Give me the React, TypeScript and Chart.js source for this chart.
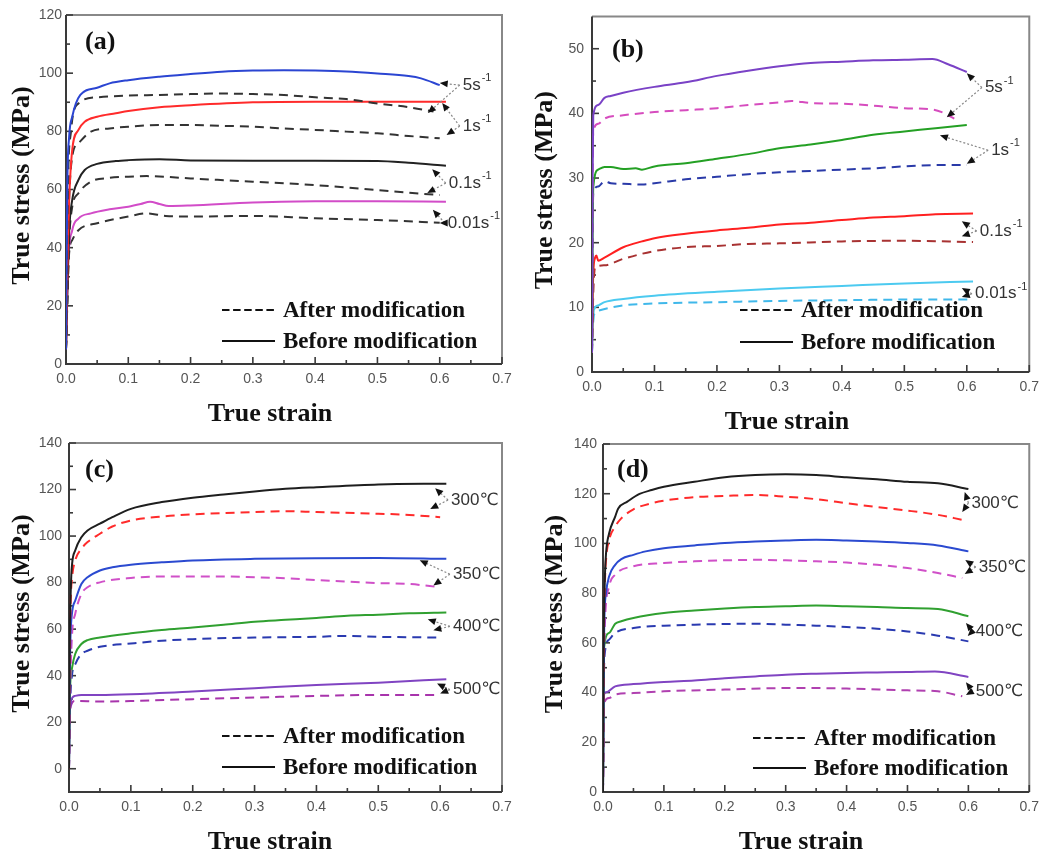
import React, { useEffect, useRef } from "react";
import { Chart, registerables } from "chart.js";
Chart.register(...registerables);

type P = [number, number];

// ---------- shared tick values ----------
const STRAIN_TICKS = [0, 0.1, 0.2, 0.3, 0.4, 0.5, 0.6, 0.7];
const A_STRESS_TICKS = [0, 20, 40, 60, 80, 100, 120];
const B_STRESS_TICKS = [0, 10, 20, 30, 40, 50];
const CD_STRESS_TICKS = [0, 20, 40, 60, 80, 100, 120, 140];

// ---------- panel (a) ----------
const A_5_BEFORE: P[] = [[0,5],[0.002,60],[0.005,78],[0.01,85],[0.023,92.5],[0.05,95],[0.07,96.5],[0.1,97.6],[0.15,98.8],[0.2,99.7],[0.25,100.5],[0.3,100.9],[0.35,101],[0.4,100.9],[0.45,100.6],[0.5,99.9],[0.55,99],[0.57,98.2],[0.6,95.9]];
const A_5_AFTER: P[] = [[0,5],[0.003,60],[0.008,80],[0.02,89.6],[0.05,91.7],[0.1,92.3],[0.15,92.5],[0.2,92.8],[0.25,93],[0.3,92.8],[0.35,92.5],[0.4,91.7],[0.45,91.1],[0.5,89.6],[0.55,88.3],[0.59,86.8]];
const A_1_BEFORE: P[] = [[0,5],[0.003,40],[0.005,56],[0.01,73.6],[0.02,80.5],[0.03,83.3],[0.05,85],[0.08,86.2],[0.1,87],[0.15,88.3],[0.2,89],[0.3,90],[0.4,90.2],[0.5,90.2],[0.61,90.2]];
const A_1_AFTER: P[] = [[0,5],[0.004,50],[0.01,71.3],[0.02,75.9],[0.04,79.9],[0.07,81],[0.1,81.6],[0.15,82.2],[0.2,82.2],[0.25,81.9],[0.3,81.6],[0.35,81],[0.4,80.5],[0.45,79.9],[0.5,79.3],[0.55,78.4],[0.6,77.6]];
const A_01_BEFORE: P[] = [[0,5],[0.005,45],[0.01,56.4],[0.02,63.3],[0.03,66.7],[0.05,68.8],[0.08,69.8],[0.1,70.1],[0.15,70.4],[0.2,70],[0.3,69.9],[0.4,69.9],[0.5,69.8],[0.55,69.2],[0.61,68.2]];
const A_01_AFTER: P[] = [[0,5],[0.005,42],[0.01,54],[0.02,58.7],[0.04,62.7],[0.07,64],[0.1,64.4],[0.13,64.6],[0.2,63.8],[0.3,62.7],[0.4,61.5],[0.5,59.8],[0.55,58.9],[0.6,58.1]];
const A_001_BEFORE: P[] = [[0,5],[0.003,33],[0.01,46],[0.02,50],[0.04,51.8],[0.07,53.2],[0.1,54.1],[0.12,55],[0.135,55.8],[0.15,55],[0.165,54.3],[0.2,54.5],[0.3,55.5],[0.4,56],[0.5,56],[0.61,55.8]];
const A_001_AFTER: P[] = [[0,5],[0.005,38],[0.01,42.6],[0.02,46],[0.05,48.4],[0.1,50.7],[0.13,51.8],[0.16,50.9],[0.2,50.7],[0.3,50.9],[0.4,50.1],[0.5,49.5],[0.6,48.6]];

// ---------- panel (b) ----------
const B_5_BEFORE: P[] = [[0,3],[0.001,30],[0.002,39.7],[0.01,41.3],[0.02,42.4],[0.03,42.7],[0.05,43.2],[0.1,44.1],[0.15,44.8],[0.2,45.8],[0.25,46.6],[0.3,47.3],[0.35,47.8],[0.4,48],[0.45,48.2],[0.5,48.3],[0.545,48.4],[0.57,47.6],[0.6,46.4]];
const B_5_AFTER: P[] = [[0,3],[0.001,30],[0.002,37.2],[0.01,38.4],[0.02,39.2],[0.05,39.7],[0.1,40.2],[0.15,40.5],[0.2,40.8],[0.25,41.3],[0.3,41.7],[0.32,41.9],[0.35,41.6],[0.4,41.5],[0.45,41.2],[0.5,40.8],[0.545,40.6],[0.56,40.2],[0.58,39.2]];
const B_1_BEFORE: P[] = [[0,3],[0.001,20],[0.002,28.5],[0.01,31.3],[0.02,31.7],[0.03,31.7],[0.05,31.4],[0.07,31.5],[0.08,31.3],[0.1,31.8],[0.15,32.3],[0.2,33],[0.25,33.7],[0.3,34.6],[0.35,35.2],[0.4,35.9],[0.45,36.7],[0.5,37.2],[0.55,37.7],[0.6,38.2]];
const B_1_AFTER: P[] = [[0,3],[0.001,20],[0.002,27.7],[0.01,28.7],[0.02,29.5],[0.03,29.2],[0.05,29.1],[0.08,29],[0.1,29.2],[0.15,29.8],[0.2,30.2],[0.25,30.6],[0.3,30.9],[0.35,31.1],[0.4,31.3],[0.45,31.5],[0.5,31.8],[0.55,32],[0.6,32]];
const B_01_BEFORE: P[] = [[0,3],[0.001,10],[0.002,15.2],[0.005,17.7],[0.007,18],[0.01,17.2],[0.02,17.7],[0.05,19.3],[0.08,20.2],[0.1,20.7],[0.15,21.4],[0.2,21.9],[0.25,22.3],[0.3,22.8],[0.35,23.1],[0.4,23.5],[0.45,23.9],[0.5,24.1],[0.55,24.4],[0.61,24.5]];
const B_01_AFTER: P[] = [[0,3],[0.002,12],[0.005,16.2],[0.02,16.5],[0.05,17.5],[0.1,18.7],[0.15,19.3],[0.2,19.5],[0.25,19.8],[0.3,19.9],[0.4,20.2],[0.5,20.3],[0.61,20.1]];
const B_001_BEFORE: P[] = [[0,3],[0.001,6],[0.003,9.6],[0.01,10.3],[0.02,10.8],[0.05,11.3],[0.1,11.8],[0.2,12.4],[0.3,12.9],[0.4,13.3],[0.5,13.7],[0.61,14]];
const B_001_AFTER: P[] = [[0,3],[0.001,6],[0.003,8.8],[0.01,9.5],[0.05,10.3],[0.1,10.6],[0.2,10.8],[0.3,11],[0.4,11.1],[0.5,11.2],[0.61,11.2]];

// ---------- panel (c) ----------
const C_300_BEFORE: P[] = [[0,0],[0.001,49],[0.003,78],[0.005,88],[0.01,93.8],[0.02,99.5],[0.03,102.4],[0.05,105.3],[0.07,108.1],[0.1,111.7],[0.15,114.6],[0.2,116.5],[0.25,117.9],[0.3,119.2],[0.35,120.3],[0.4,121],[0.5,122.2],[0.61,122.5]];
const C_300_AFTER: P[] = [[0,0],[0.001,45],[0.003,73.7],[0.005,82.3],[0.01,89.5],[0.02,94.5],[0.03,97.4],[0.05,101],[0.07,104.1],[0.1,106.7],[0.15,108.4],[0.2,109.3],[0.3,110.3],[0.35,110.7],[0.4,110.3],[0.5,109.6],[0.55,109.1],[0.6,108.1]];
const C_350_BEFORE: P[] = [[0,0],[0.001,35],[0.003,60.7],[0.01,72.2],[0.02,79.4],[0.03,82.3],[0.05,85.2],[0.07,86.6],[0.1,87.7],[0.15,88.7],[0.2,89.5],[0.3,90.2],[0.4,90.5],[0.5,90.6],[0.61,90.2]];
const C_350_AFTER: P[] = [[0,0],[0.002,35],[0.005,57.9],[0.01,66.5],[0.02,75.1],[0.03,78],[0.05,80.1],[0.1,82],[0.15,82.6],[0.2,82.6],[0.25,82.6],[0.3,82.3],[0.35,81.9],[0.4,81.1],[0.5,79.8],[0.55,79.4],[0.6,78]];
const C_400_BEFORE: P[] = [[0,0],[0.001,25],[0.002,36.3],[0.005,43.5],[0.01,49.3],[0.02,53.6],[0.03,55.3],[0.05,56.4],[0.1,58.2],[0.15,59.6],[0.2,60.7],[0.25,61.9],[0.3,63.2],[0.35,64],[0.4,64.8],[0.45,65.8],[0.5,66.2],[0.55,66.8],[0.61,67.2]];
const C_400_AFTER: P[] = [[0,0],[0.002,28],[0.005,40.6],[0.01,44.9],[0.02,49.3],[0.03,50.7],[0.05,52.4],[0.1,53.8],[0.15,55],[0.2,55.7],[0.3,56.4],[0.4,56.7],[0.45,57.1],[0.5,56.7],[0.6,56.4]];
const C_500_BEFORE: P[] = [[0,0],[0.001,20.5],[0.003,29.1],[0.01,31.3],[0.02,31.7],[0.05,31.7],[0.1,32],[0.2,33.2],[0.3,34.6],[0.4,36],[0.5,37],[0.61,38.5]];
const C_500_AFTER: P[] = [[0,0],[0.001,18],[0.003,27],[0.01,29.1],[0.05,28.9],[0.1,29.1],[0.2,29.9],[0.3,30.6],[0.4,31.3],[0.5,31.7],[0.6,31.7]];

// ---------- panel (d) ----------
const D_300_BEFORE: P[] = [[0,0],[0.001,55.9],[0.003,85.3],[0.005,96],[0.01,104],[0.02,110.8],[0.025,114.1],[0.04,116.8],[0.06,119.9],[0.08,121.5],[0.1,122.8],[0.15,124.8],[0.2,126.6],[0.25,127.5],[0.3,127.8],[0.35,127.5],[0.4,126.6],[0.45,125.8],[0.5,124.8],[0.55,124.2],[0.6,121.9]];
const D_300_AFTER: P[] = [[0,0],[0.001,50],[0.003,82.7],[0.005,93.4],[0.01,101.4],[0.02,106.8],[0.03,110.1],[0.05,113.7],[0.08,116.2],[0.1,117.2],[0.15,118.6],[0.2,119.1],[0.25,119.5],[0.3,118.8],[0.35,117.8],[0.4,116.2],[0.45,114.6],[0.5,113.2],[0.55,111.5],[0.59,109.5]];
const D_350_BEFORE: P[] = [[0,0],[0.001,40],[0.002,66.6],[0.005,80],[0.01,86.7],[0.02,91.4],[0.03,93.7],[0.05,95.4],[0.07,96.8],[0.1,98.1],[0.15,99.2],[0.2,100.2],[0.25,100.8],[0.3,101.2],[0.35,101.5],[0.4,101.2],[0.45,100.8],[0.5,100.2],[0.55,99.2],[0.6,96.8]];
const D_350_AFTER: P[] = [[0,0],[0.001,40],[0.003,66.6],[0.01,82.7],[0.02,87.4],[0.05,90.8],[0.1,92.1],[0.15,92.8],[0.2,93.2],[0.25,93.4],[0.3,93.2],[0.35,92.8],[0.4,92.3],[0.45,91.4],[0.5,90.1],[0.55,88.1],[0.59,86.1]];
const D_400_BEFORE: P[] = [[0,0],[0.001,40],[0.002,58.6],[0.01,64],[0.02,67.7],[0.03,68.7],[0.05,70],[0.1,72],[0.15,73],[0.2,73.8],[0.25,74.4],[0.3,74.7],[0.35,75],[0.4,74.7],[0.45,74.4],[0.5,74],[0.55,73.6],[0.6,70.7]];
const D_400_AFTER: P[] = [[0,0],[0.001,38],[0.003,55.9],[0.01,61.3],[0.02,64],[0.05,66],[0.1,66.9],[0.15,67.3],[0.2,67.6],[0.25,67.7],[0.3,67.3],[0.35,66.9],[0.4,66.4],[0.45,65.7],[0.5,64.6],[0.55,62.9],[0.6,60.6]];
const D_500_BEFORE: P[] = [[0,0],[0.001,38.5],[0.005,40.1],[0.02,42.5],[0.05,43.4],[0.1,44.3],[0.15,44.9],[0.2,45.8],[0.25,46.5],[0.3,47.2],[0.35,47.6],[0.4,47.9],[0.45,48.1],[0.5,48.3],[0.545,48.5],[0.6,46.3]];
const D_500_AFTER: P[] = [[0,0],[0.002,35.8],[0.01,37.8],[0.02,39.2],[0.05,39.8],[0.1,40.5],[0.2,41.2],[0.3,41.8],[0.35,41.8],[0.4,41.6],[0.5,40.9],[0.55,40.5],[0.59,38.5]];

// ---------- annotations (label centre, arrow targets) ----------
type Ann = { text: string; sup?: string; at: P; to: P[] };
const A_ANN: Ann[] = [
  { text: "5s", sup: "-1", at: [0.66, 95.9], to: [[0.6, 96.6], [0.581, 86.3]] },
  { text: "1s", sup: "-1", at: [0.66, 81.8], to: [[0.604, 89.7], [0.611, 78.7]] },
  { text: "0.1s", sup: "-1", at: [0.649, 62.2], to: [[0.588, 67], [0.58, 58.8]] },
  { text: "0.01s", sup: "-1", at: [0.655, 48.5], to: [[0.589, 53], [0.6, 48.5]] },
];
const B_ANN: Ann[] = [
  { text: "5s", sup: "-1", at: [0.652, 44], to: [[0.6, 46.2], [0.568, 39.4]] },
  { text: "1s", sup: "-1", at: [0.662, 34.3], to: [[0.557, 36.6], [0.6, 32.2]] },
  { text: "0.1s", sup: "-1", at: [0.655, 21.8], to: [[0.592, 23.3], [0.592, 21]] },
  { text: "0.01s", sup: "-1", at: [0.655, 12.1], to: [[0.592, 13], [0.592, 11.6]] },
];
const C_ANN: Ann[] = [
  { text: "300℃", at: [0.656, 115.5], to: [[0.592, 120.6], [0.584, 111.6]] },
  { text: "350℃", at: [0.659, 83.6], to: [[0.567, 89.6], [0.589, 78.8]] },
  { text: "400℃", at: [0.659, 61.2], to: [[0.58, 64.2], [0.589, 59.5]] },
  { text: "500℃", at: [0.659, 34], to: [[0.595, 36.6], [0.6, 32.3]] },
];
const D_ANN: Ann[] = [
  { text: "300℃", at: [0.644, 116.3], to: [[0.594, 120.7], [0.59, 112.6]] },
  { text: "350℃", at: [0.656, 90.5], to: [[0.595, 93.3], [0.594, 87.7]] },
  { text: "400℃", at: [0.651, 64.8], to: [[0.596, 68], [0.599, 62.8]] },
  { text: "500℃", at: [0.651, 40.6], to: [[0.596, 44.2], [0.596, 39]] },
];

const LEGEND_LABELS = ["After modification", "Before modification"];

type Series = { data: P[]; color: string; dashed: boolean };
type PanelCfg = {
  tag: string;
  box: { left: number; top: number; width: number; height: number };
  yW: number; xH: number; padTop: number; padRight: number;
  yMin: number; yMax: number; yTicks: number[]; yPad: number;
  series: Series[];
  ann: Ann[];
  legend: { dx: number; dy1: number; dy2: number };
  tagPos: { dx: number; dy: number };
  yTitleX: number; xTitleX: number;
};

const SERIF = '"Liberation Serif", "Times New Roman", serif';
const SANS = '"Liberation Sans", Arial, "DejaVu Sans", sans-serif';

const PANELS: PanelCfg[] = [
  {
    tag: "(a)",
    box: { left: 0, top: 0, width: 520, height: 430 },
    yW: 66, xH: 66, padTop: 15, padRight: 18,
    yMin: 0, yMax: 120, yTicks: A_STRESS_TICKS, yPad: 4,
    series: [
      { data: A_5_BEFORE, color: "#2b45d2", dashed: false },
      { data: A_5_AFTER, color: "#333333", dashed: true },
      { data: A_1_BEFORE, color: "#ff2b2b", dashed: false },
      { data: A_1_AFTER, color: "#333333", dashed: true },
      { data: A_01_BEFORE, color: "#222222", dashed: false },
      { data: A_01_AFTER, color: "#333333", dashed: true },
      { data: A_001_BEFORE, color: "#d24cc8", dashed: false },
      { data: A_001_AFTER, color: "#333333", dashed: true },
    ],
    ann: A_ANN,
    legend: { dx: 156, dy1: 54, dy2: 23 },
    tagPos: { dx: 19, dy: 27 },
    yTitleX: 22, xTitleX: 270,
  },
  {
    tag: "(b)",
    box: { left: 520, top: 0, width: 526, height: 430 },
    yW: 72, xH: 58, padTop: 14, padRight: 13,
    yMin: 0, yMax: 55, yTicks: B_STRESS_TICKS, yPad: 8,
    series: [
      { data: B_5_BEFORE, color: "#7a42c6", dashed: false },
      { data: B_5_AFTER, color: "#d64cbe", dashed: true },
      { data: B_1_BEFORE, color: "#24a024", dashed: false },
      { data: B_1_AFTER, color: "#2a3aa8", dashed: true },
      { data: B_01_BEFORE, color: "#ff2020", dashed: false },
      { data: B_01_AFTER, color: "#a83232", dashed: true },
      { data: B_001_BEFORE, color: "#4ccaf0", dashed: false },
      { data: B_001_AFTER, color: "#40b8ea", dashed: true },
    ],
    ann: B_ANN,
    legend: { dx: 148, dy1: 62, dy2: 30 },
    tagPos: { dx: 20, dy: 34 },
    yTitleX: 25, xTitleX: 267,
  },
  {
    tag: "(c)",
    box: { left: 0, top: 425, width: 520, height: 431 },
    yW: 69, xH: 64, padTop: 18, padRight: 18,
    yMin: -10, yMax: 140, yTicks: CD_STRESS_TICKS, yPad: 7,
    series: [
      { data: C_300_BEFORE, color: "#1e1e1e", dashed: false },
      { data: C_300_AFTER, color: "#ff2b2b", dashed: true },
      { data: C_350_BEFORE, color: "#2b4ad0", dashed: false },
      { data: C_350_AFTER, color: "#d050c8", dashed: true },
      { data: C_400_BEFORE, color: "#30a030", dashed: false },
      { data: C_400_AFTER, color: "#2a3ab0", dashed: true },
      { data: C_500_BEFORE, color: "#8044c2", dashed: false },
      { data: C_500_AFTER, color: "#a834ac", dashed: true },
    ],
    ann: C_ANN,
    legend: { dx: 153, dy1: 56, dy2: 25 },
    tagPos: { dx: 16, dy: 27 },
    yTitleX: 22, xTitleX: 270,
  },
  {
    tag: "(d)",
    box: { left: 520, top: 425, width: 526, height: 431 },
    yW: 83, xH: 64, padTop: 19, padRight: 14,
    yMin: 0, yMax: 140, yTicks: CD_STRESS_TICKS, yPad: 6,
    series: [
      { data: D_300_BEFORE, color: "#1e1e1e", dashed: false },
      { data: D_300_AFTER, color: "#ff2b2b", dashed: true },
      { data: D_350_BEFORE, color: "#2b4ad0", dashed: false },
      { data: D_350_AFTER, color: "#d050c8", dashed: true },
      { data: D_400_BEFORE, color: "#30a030", dashed: false },
      { data: D_400_AFTER, color: "#2a3ab0", dashed: true },
      { data: D_500_BEFORE, color: "#8044c2", dashed: false },
      { data: D_500_AFTER, color: "#b040b0", dashed: true },
    ],
    ann: D_ANN,
    legend: { dx: 150, dy1: 54, dy2: 24 },
    tagPos: { dx: 14, dy: 26 },
    yTitleX: 35, xTitleX: 281,
  },
];

function midpoints(v: number[]): number[] {
  const out: number[] = [];
  for (let i = 0; i < v.length - 1; i++) out.push((v[i] + v[i + 1]) / 2);
  return out;
}

function makeDecor(cfg: PanelCfg) {
  return {
    id: "decor",
    beforeDatasetsDraw(chart: any) {
      const { ctx, chartArea: ca, scales } = chart;
      const x = scales.x, y = scales.y;
      ctx.save();
      ctx.lineWidth = 2;
      ctx.strokeStyle = "#888";
      ctx.beginPath();
      ctx.moveTo(ca.left, ca.top); ctx.lineTo(ca.right, ca.top); ctx.lineTo(ca.right, ca.bottom);
      ctx.stroke();
      ctx.strokeStyle = "#3a3a3a";
      ctx.beginPath();
      ctx.moveTo(ca.left, ca.top); ctx.lineTo(ca.left, ca.bottom); ctx.lineTo(ca.right, ca.bottom);
      ctx.stroke();
      ctx.lineWidth = 1.6;
      const xt = (v: number, len: number) => {
        const px = x.getPixelForValue(v);
        ctx.beginPath(); ctx.moveTo(px, ca.bottom); ctx.lineTo(px, ca.bottom - len); ctx.stroke();
      };
      const yt = (v: number, len: number) => {
        const py = y.getPixelForValue(v);
        ctx.beginPath(); ctx.moveTo(ca.left, py); ctx.lineTo(ca.left + len, py); ctx.stroke();
      };
      STRAIN_TICKS.forEach((v) => xt(v, 7));
      midpoints(STRAIN_TICKS).forEach((v) => xt(v, 4));
      cfg.yTicks.forEach((v) => yt(v, 7));
      midpoints(cfg.yTicks).forEach((v) => yt(v, 4));
      ctx.restore();
    },
    afterDraw(chart: any) {
      const { ctx, chartArea: ca, scales } = chart;
      const x = scales.x, y = scales.y;
      ctx.save();
      // panel tag
      ctx.fillStyle = "#111";
      ctx.font = `bold 26px ${SERIF}`;
      ctx.textAlign = "left";
      ctx.textBaseline = "middle";
      ctx.fillText(cfg.tag, ca.left + cfg.tagPos.dx, ca.top + cfg.tagPos.dy);
      // axis titles
      ctx.textAlign = "center";
      ctx.fillText("True strain", cfg.xTitleX, ca.bottom + 50);
      ctx.save();
      ctx.translate(cfg.yTitleX, (ca.top + ca.bottom) / 2 - 4);
      ctx.rotate(-Math.PI / 2);
      ctx.fillText("True stress (MPa)", 0, 0);
      ctx.restore();
      // legend
      const lx = ca.left + cfg.legend.dx;
      const rows = [ca.bottom - cfg.legend.dy1, ca.bottom - cfg.legend.dy2];
      ctx.strokeStyle = "#111";
      ctx.lineWidth = 2;
      rows.forEach((ry, i) => {
        ctx.setLineDash(i === 0 ? [7.5, 3.6] : []);
        ctx.beginPath(); ctx.moveTo(lx, ry); ctx.lineTo(lx + 53, ry); ctx.stroke();
        ctx.setLineDash([]);
        ctx.font = `bold 23px ${SERIF}`;
        ctx.textAlign = "left";
        ctx.fillStyle = "#111";
        ctx.fillText(LEGEND_LABELS[i], lx + 61, ry + 1);
      });
      // annotations
      cfg.ann.forEach((a) => {
        const cx = x.getPixelForValue(a.at[0]);
        const cy = y.getPixelForValue(a.at[1]);
        const mainFont = `17px ${SANS}`;
        const supFont = `11px ${SANS}`;
        ctx.font = mainFont;
        const wm = ctx.measureText(a.text).width;
        ctx.font = supFont;
        const ws = a.sup ? ctx.measureText(a.sup).width + 1 : 0;
        const x0 = cx - (wm + ws) / 2;
        ctx.fillStyle = "#333";
        ctx.textAlign = "left";
        ctx.textBaseline = "middle";
        ctx.font = mainFont;
        ctx.fillText(a.text, x0, cy);
        if (a.sup) {
          ctx.font = supFont;
          ctx.fillText(a.sup, x0 + wm + 1, cy - 7);
        }
        const sx = x0 - 3, sy = cy;
        a.to.forEach((t) => {
          const tx = x.getPixelForValue(t[0]);
          const ty = y.getPixelForValue(t[1]);
          const dx = tx - sx, dy = ty - sy;
          const len = Math.hypot(dx, dy) || 1;
          const ux = dx / len, uy = dy / len;
          const bx = tx - ux * 8, by = ty - uy * 8;
          ctx.strokeStyle = "#888";
          ctx.lineWidth = 1.2;
          ctx.setLineDash([2, 2]);
          ctx.beginPath(); ctx.moveTo(sx, sy); ctx.lineTo(bx, by); ctx.stroke();
          ctx.setLineDash([]);
          ctx.fillStyle = "#111";
          ctx.beginPath();
          ctx.moveTo(tx, ty);
          ctx.lineTo(bx - uy * 3.5, by + ux * 3.5);
          ctx.lineTo(bx + uy * 3.5, by - ux * 3.5);
          ctx.closePath();
          ctx.fill();
        });
      });
      ctx.restore();
    },
  };
}

function Panel({ cfg }: { cfg: PanelCfg }) {
  const ref = useRef<HTMLCanvasElement>(null);
  useEffect(() => {
    if (!ref.current) return;
    const chart = new Chart(ref.current, {
      type: "line",
      data: {
        datasets: cfg.series.map((s) => ({
          data: s.data.map(([xv, yv]) => ({ x: xv, y: yv })),
          borderColor: s.color,
          borderWidth: 2,
          borderDash: s.dashed ? [9, 6] : [],
          pointRadius: 0,
          fill: false,
          cubicInterpolationMode: "monotone" as const,
        })),
      },
      options: {
        responsive: false,
        animation: false,
        layout: { padding: { top: cfg.padTop, right: cfg.padRight, left: 0, bottom: 0 } },
        plugins: { legend: { display: false }, tooltip: { enabled: false } },
        scales: {
          x: {
            type: "linear",
            min: 0,
            max: 0.7,
            grid: { display: false, drawTicks: false },
            border: { display: false },
            afterBuildTicks: (s: any) => { s.ticks = STRAIN_TICKS.map((v) => ({ value: v })); },
            afterFit: (s: any) => { s.height = cfg.xH; },
            ticks: {
              autoSkip: false,
              maxRotation: 0,
              padding: 7,
              color: "#555",
              font: { family: SANS, size: 14 },
              callback: (v: any) => Number(v).toFixed(1),
            },
          },
          y: {
            type: "linear",
            min: cfg.yMin,
            max: cfg.yMax,
            grid: { display: false, drawTicks: false },
            border: { display: false },
            afterBuildTicks: (s: any) => { s.ticks = cfg.yTicks.map((v) => ({ value: v })); },
            afterFit: (s: any) => { s.width = cfg.yW; },
            ticks: {
              autoSkip: false,
              padding: cfg.yPad,
              color: "#555",
              font: { family: SANS, size: 14 },
              callback: (v: any) => String(v),
            },
          },
        },
      },
      plugins: [makeDecor(cfg)],
    } as any);
    return () => chart.destroy();
  }, [cfg]);
  return (
    <div style={{ position: "absolute", left: cfg.box.left, top: cfg.box.top, width: cfg.box.width, height: cfg.box.height }}>
      <canvas ref={ref} width={cfg.box.width} height={cfg.box.height} style={{ width: cfg.box.width, height: cfg.box.height, display: "block" }} />
    </div>
  );
}

export default function App() {
  return (
    <div style={{ position: "absolute", left: 0, top: 0, width: 1046, height: 856, background: "#fff", overflow: "hidden" }}>
      {PANELS.map((p) => (
        <Panel key={p.tag} cfg={p} />
      ))}
    </div>
  );
}
